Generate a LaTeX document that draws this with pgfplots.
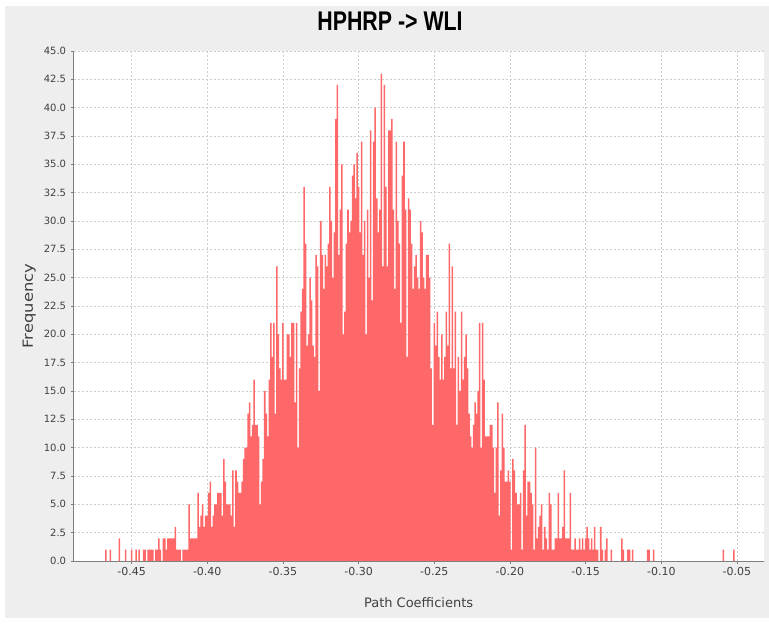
\documentclass[border=0pt]{standalone}
\usepackage{pgfplots}
\pgfplotsset{compat=1.18}
\usepackage{fontspec}
\setmainfont{DejaVu Sans}
\newfontfamily\titlefont{Liberation Sans}
\usepackage{graphicx}
\definecolor{bggray}{RGB}{238,238,238}
\definecolor{barred}{RGB}{255,104,104}
\definecolor{gridgray}{RGB}{205,205,205}
\definecolor{axgray}{RGB}{128,128,128}
\definecolor{txtgray}{RGB}{64,64,64}
\pgfplotstableread{
x y
-0.467 1
-0.464 1
-0.458 2
-0.454 1
-0.450 1
-0.447 1
-0.445 1
-0.442 1
-0.441 1
-0.439 1
-0.438 1
-0.437 1
-0.436 1
-0.434 1
-0.433 1
-0.432 2
-0.431 1
-0.429 2
-0.428 2
-0.427 1
-0.426 2
-0.425 2
-0.424 2
-0.423 2
-0.422 2
-0.421 3
-0.420 1
-0.419 1
-0.418 1
-0.416 1
-0.415 1
-0.414 1
-0.413 1
-0.412 5
-0.411 2
-0.410 2
-0.409 2
-0.408 2
-0.407 2
-0.406 6
-0.405 3
-0.404 4
-0.403 5
-0.402 3
-0.401 4
-0.400 4
-0.399 6
-0.398 7
-0.397 3
-0.396 4
-0.395 5
-0.394 5
-0.393 6
-0.392 6
-0.391 6
-0.390 4
-0.389 9
-0.388 7
-0.387 5
-0.386 5
-0.385 5
-0.384 4
-0.383 8
-0.382 3
-0.381 8
-0.380 7
-0.379 6
-0.378 6
-0.377 7
-0.376 9
-0.375 10
-0.374 10
-0.373 13
-0.372 14
-0.371 11
-0.370 12
-0.369 16
-0.368 12
-0.367 12
-0.366 11
-0.365 5
-0.364 7
-0.363 9
-0.362 15
-0.361 13
-0.360 11
-0.359 16
-0.358 21
-0.357 18
-0.356 21
-0.355 13
-0.354 26
-0.353 20
-0.352 17
-0.351 16
-0.350 21
-0.349 16
-0.348 16
-0.347 20
-0.346 20
-0.345 18
-0.344 21
-0.343 21
-0.342 14
-0.341 21
-0.340 10
-0.339 17
-0.338 22
-0.337 24
-0.336 33
-0.335 28
-0.334 19
-0.333 20
-0.332 25
-0.331 23
-0.330 19
-0.329 18
-0.328 27
-0.327 26
-0.326 15
-0.325 30
-0.324 27
-0.323 24
-0.322 27
-0.321 26
-0.320 28
-0.319 33
-0.318 30
-0.317 25
-0.316 29
-0.315 39
-0.314 42
-0.313 27
-0.312 31
-0.311 35
-0.310 20
-0.309 22
-0.308 28
-0.307 31
-0.306 29
-0.305 30
-0.304 34
-0.303 35
-0.302 32
-0.301 36
-0.300 33
-0.299 29
-0.298 37
-0.297 27
-0.296 30
-0.295 20
-0.294 31
-0.293 25
-0.292 38
-0.291 23
-0.290 37
-0.289 40
-0.288 32
-0.287 29
-0.286 31
-0.285 43
-0.284 26
-0.283 42
-0.282 33
-0.281 26
-0.280 38
-0.279 38
-0.278 39
-0.277 31
-0.276 24
-0.275 37
-0.274 30
-0.273 28
-0.272 21
-0.271 34
-0.270 37
-0.269 31
-0.268 18
-0.267 32
-0.266 31
-0.265 28
-0.264 24
-0.263 26
-0.262 27
-0.261 25
-0.260 24
-0.259 30
-0.258 29
-0.257 25
-0.256 24
-0.255 27
-0.254 27
-0.253 25
-0.252 17
-0.251 12
-0.250 21
-0.249 19
-0.248 22
-0.247 18
-0.246 16
-0.245 20
-0.244 16
-0.243 18
-0.242 22
-0.241 19
-0.240 28
-0.239 17
-0.238 26
-0.237 17
-0.236 22
-0.235 12
-0.234 18
-0.233 15
-0.232 22
-0.231 16
-0.230 18
-0.229 20
-0.228 17
-0.227 13
-0.226 11
-0.225 10
-0.224 12
-0.223 14
-0.222 13
-0.221 15
-0.220 21
-0.219 10
-0.218 21
-0.217 16
-0.216 11
-0.215 11
-0.214 11
-0.213 12
-0.212 12
-0.211 10
-0.210 6
-0.209 10
-0.208 14
-0.207 4
-0.206 8
-0.205 13
-0.204 10
-0.203 7
-0.202 7
-0.201 8
-0.200 7
-0.199 1
-0.198 9
-0.197 8
-0.196 6
-0.195 5
-0.194 5
-0.193 6
-0.192 1
-0.191 8
-0.190 12
-0.189 4
-0.188 7
-0.187 7
-0.186 6
-0.185 5
-0.184 1
-0.183 10
-0.182 2
-0.181 3
-0.180 4
-0.179 5
-0.178 1
-0.177 3
-0.176 2
-0.175 1
-0.174 6
-0.173 5
-0.172 1
-0.171 1
-0.170 2
-0.169 2
-0.168 6
-0.167 2
-0.166 2
-0.165 3
-0.164 8
-0.163 2
-0.162 2
-0.161 2
-0.160 6
-0.159 1
-0.158 1
-0.157 2
-0.156 1
-0.155 1
-0.154 2
-0.153 1
-0.152 2
-0.151 1
-0.150 2
-0.149 3
-0.148 2
-0.147 1
-0.146 2
-0.145 1
-0.144 3
-0.143 1
-0.142 1
-0.140 3
-0.139 1
-0.137 1
-0.136 2
-0.133 1
-0.126 2
-0.125 1
-0.122 1
-0.121 1
-0.119 1
-0.109 1
-0.108 1
-0.105 1
-0.059 1
-0.052 1
}\histdata

\begin{document}
\begin{tikzpicture}
\path[use as bounding box] (0,0) rectangle (769pt,624pt);
\fill[white] (0,0) rectangle (769pt,624pt);
\fill[bggray] (5pt,6pt) rectangle (769pt,618pt);
\begin{axis}[
  at={(73.6pt,63pt)}, anchor=south west,
  scale only axis, width=690pt, height=510pt,
  xmin=-0.4883, xmax=-0.0324, ymin=0, ymax=45,
  axis background/.style={fill=white},
  axis x line*=bottom, axis y line*=left,
  axis line style={axgray, line width=0.8pt, -},
  xtick={-0.45,-0.4,-0.35,-0.3,-0.25,-0.2,-0.15,-0.1,-0.05},
  xticklabels={-0.45,-0.40,-0.35,-0.30,-0.25,-0.20,-0.15,-0.10,-0.05},
  ytick={0,2.5,5,7.5,10,12.5,15,17.5,20,22.5,25,27.5,30,32.5,35,37.5,40,42.5,45},
  yticklabels={0.0,2.5,5.0,7.5,10.0,12.5,15.0,17.5,20.0,22.5,25.0,27.5,30.0,32.5,35.0,37.5,40.0,42.5,45.0},
  tick align=outside, major tick length=3pt,
  tick style={axgray, line width=0.6pt},
  grid=major,
  major grid style={gridgray, dash pattern=on 2pt off 2pt, line width=0.5pt},
  xticklabel style={font=\fontsize{11}{11}\selectfont, text=txtgray},
  yticklabel style={font=\fontsize{10}{10}\selectfont, text=txtgray, xshift=-1pt},
  title={\scalebox{0.79}[1]{HPHRP -> WLI}},
  title style={at={(axis description cs:0.4586,1)}, anchor=base, yshift=14.3pt,
    font=\titlefont\bfseries\fontsize{27}{27}\selectfont, text=black},
  xlabel={Path Coefficients},
  xlabel style={at={(axis description cs:0.5,0)}, anchor=base, yshift=-47pt,
    font=\fontsize{13}{13}\selectfont, text=txtgray},
  ylabel={\scalebox{1.17}[1]{Frequency}},
  ylabel style={at={(axis description cs:-0.0591,0.5)}, anchor=base, rotate=0,
    font=\fontsize{14}{14}\selectfont, text=txtgray},
]
\addplot[ybar, bar width=0.001, bar shift=0pt, fill=barred, draw=none] table[x=x, y=y] {\histdata};
\end{axis}
\end{tikzpicture}
\end{document}
